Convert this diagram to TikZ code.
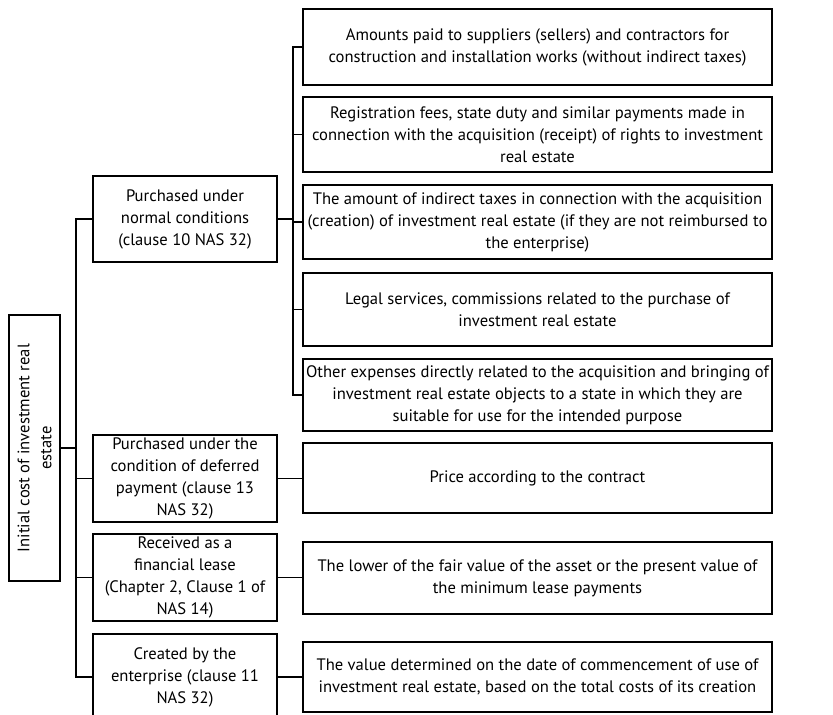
\documentclass[tikz,border=0pt]{standalone}
\usepackage{fontspec}
\setmainfont{PT Sans}
\usetikzlibrary{positioning}

\tikzset{
  box/.style={draw,line width=1.1pt,align=center,inner sep=1pt,
              font=\fontsize{16.6}{22}\selectfont},
  midbox/.style={box,minimum width=184pt},
  leafbox/.style={box,minimum width=469pt},
  link/.style={line width=1.3pt}
}

\begin{document}
\begin{tikzpicture}[x=1pt,y=-1pt]
                                    \def\xtrunk{76};\def\xsub{293};\def\xmid{185};\def\xleaf{537.5};
                                    \path[use as bounding box,clip] (0,0) rectangle (833,715);
% root
                                    \node[box,minimum width=51pt,minimum height=266pt] (root) at (34.5,448)
                                      {\rotatebox{90}{\parbox{260pt}{\centering Initial cost of investment real\\ estate}}};
% second level
                                    \node[midbox,minimum height=86pt] (normal) at (\xmid,219) {Purchased under\\ normal conditions\\ (clause 10 NAS 32)};
                                    \node[midbox,minimum height=87pt] (deferred) at (\xmid,478.5) {Purchased under the\\ condition of deferred\\ payment (clause 13\\ NAS 32)};
                                    \node[midbox,minimum height=87pt] (lease) at (\xmid,577.5) {Received as a\\ financial lease\\ (Chapter 2, Clause 1 of\\ NAS 14)};
                                    \node[midbox,minimum height=86pt] (created) at (\xmid,677) {Created by the\\ enterprise (clause 11\\ NAS 32)};
% third level
                                    \node[leafbox,minimum height=76pt] (paid) at (\xleaf,47) {Amounts paid to suppliers (sellers) and contractors for\\ construction and installation works (without indirect taxes)};
                                    \node[leafbox,minimum height=75pt] (fees) at (\xleaf,134.5) {Registration fees, state duty and similar payments made in\\ connection with the acquisition (receipt) of rights to investment\\ real estate};
                                    \node[leafbox,minimum height=74pt] (taxes) at (\xleaf,222) {The amount of indirect taxes in connection with the acquisition\\ (creation) of investment real estate (if they are not reimbursed to\\ the enterprise)};
                                    \node[leafbox,minimum height=73pt] (legal) at (\xleaf,309.5) {Legal services, commissions related to the purchase of\\ investment real estate};
                                    \node[leafbox,minimum height=72pt] (other) at (\xleaf,395) {Other expenses directly related to the acquisition and bringing of\\ investment real estate objects to a state in which they are\\ suitable for use for the intended purpose};
                                    \node[leafbox,minimum height=70pt] (price) at (\xleaf,478) {Price according to the contract};
                                    \node[leafbox,minimum height=72pt] (lower) at (\xleaf,578) {The lower of the fair value of the asset or the present value of\\ the minimum lease payments};
                                    \node[leafbox,minimum height=70pt] (value) at (\xleaf,677) {The value determined on the date of commencement of use of\\ investment real estate, based on the total costs of its creation};
% trunk
                                    \coordinate (trunk) at (\xtrunk,0);
                                    \coordinate (sub) at (\xsub,0);
                                    \draw[link] (root.east) -- (root.east -| trunk);
                                    \draw[link] (normal.west) -- (normal.west -| trunk) -- (created.west -| trunk) -- (created.west);
                                    \foreach \n in {deferred,lease}
                                      \draw[link] (\n.west -| trunk) -- (\n.west);
% branches
                                    \draw[link] (normal.east) -- (normal.east -| sub);
                                    \draw[link] (paid.west) -- (paid.west -| sub) -- (other.west -| sub) -- (other.west);
                                    \foreach \n in {fees,taxes,legal}
                                      \draw[link] (\n.west -| sub) -- (\n.west);
                                    \foreach \m/\r in {deferred/price,lease/lower,created/value}
                                      \draw[link] (\m.east) -- (\m.east -| \r.west);
\end{tikzpicture}
\end{document}
